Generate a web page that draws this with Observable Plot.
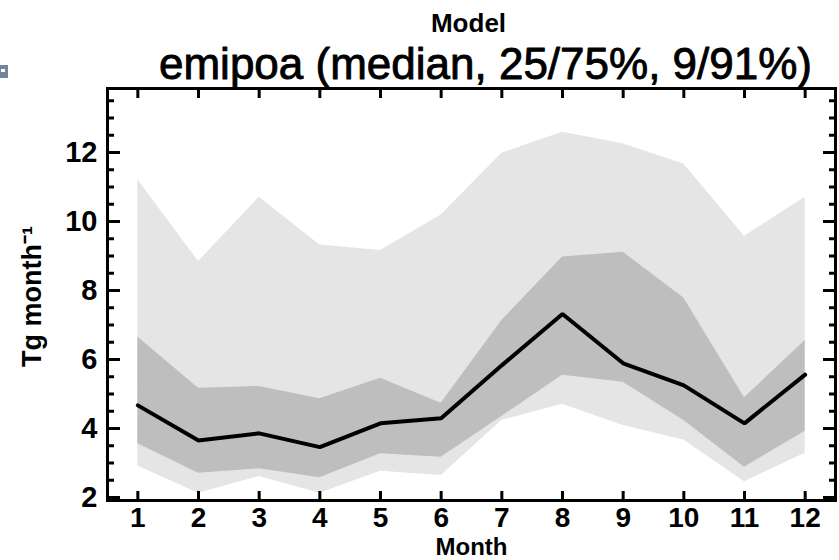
<!DOCTYPE html>
<html><head><meta charset="utf-8">
<script src="https://cdn.jsdelivr.net/npm/d3@7"></script>
<script src="https://cdn.jsdelivr.net/npm/@observablehq/plot@0.6"></script>
<style>
body{margin:0;background:#fff}
#wrap{position:relative;width:839px;height:560px;overflow:hidden}
#icon{position:absolute;left:0;width:8px;height:13px;background:#7384a0}
#icon::after{content:"";position:absolute;left:1px;top:4px;width:4px;height:3px;background:#fff}
</style>
</head><body><div id="wrap"><div id="icon" style="top:65px"></div></div>
<script>
const months = [1,2,3,4,5,6,7,8,9,10,11,12];
const median = [4.67,3.65,3.86,3.46,4.15,4.30,5.83,7.32,5.89,5.25,4.15,5.56];
const p25 = [3.56,2.70,2.83,2.57,3.27,3.17,4.35,5.54,5.34,4.23,2.88,3.92];
const p75 = [6.65,5.17,5.22,4.86,5.46,4.73,7.13,8.97,9.11,7.78,4.89,6.55];
const p09 = [2.91,2.12,2.61,2.12,2.76,2.64,4.23,4.70,4.09,3.67,2.46,3.28];
const p91 = [11.21,8.84,10.70,9.32,9.16,10.19,11.98,12.59,12.25,11.67,9.57,10.70];
const yMajor = [2,4,6,8,10,12];
const yMinor = d3.range(2,14,0.5).filter(v => v % 2 !== 0);
const superTitle = "Model";
const title = "emipoa (median, 25/75%, 9/91%)";
const xLabel = "Month";
const yLabel = "Tg month\u207B\u00B9";

const data = months.map((m,i) => ({month:m, median:median[i], p25:p25[i], p75:p75[i], p09:p09[i], p91:p91[i]}));
const font = "'Liberation Sans', Arial, sans-serif";
const tk = {strokeWidth: 3, stroke: "#000", fill: "none", label: null};

const chart = Plot.plot({
  width: 839, height: 560,
  marginLeft: 107, marginRight: 4, marginTop: 88, marginBottom: 60,
  style: {fontFamily: font, background: "#fff", color: "#000"},
  x: {domain: [0.5, 12.5], axis: null},
  y: {domain: [1.913, 13.855], axis: null},
  marks: [
    Plot.areaY(data, {x: "month", y1: "p09", y2: "p91", fill: "#e5e5e5"}),
    Plot.areaY(data, {x: "month", y1: "p25", y2: "p75", fill: "#bebebe"}),
    Plot.line(data, {x: "month", y: "median", stroke: "#000", strokeWidth: 4, strokeLinejoin: "miter"}),
    // inward ticks
    Plot.axisY({...tk, ticks: yMajor, anchor: "left", tickSize: 13, dx: 13}),
    Plot.axisY({...tk, ticks: yMajor, anchor: "right", tickSize: 13, dx: -13}),
    Plot.axisY({...tk, ticks: yMinor, anchor: "left", tickSize: 7, dx: 7}),
    Plot.axisY({...tk, ticks: yMinor, anchor: "right", tickSize: 7, dx: -7}),
    Plot.axisX({...tk, ticks: months, anchor: "bottom", tickSize: 9, dy: -9}),
    Plot.axisX({...tk, ticks: months, anchor: "top", tickSize: 9, dy: 9}),
    // tick labels
    Plot.axisY({ticks: yMajor, anchor: "left", tickSize: 0, tickPadding: 10, fill: "#000", fontSize: 29, fontWeight: "bold", label: null}),
    Plot.axisX({ticks: months, anchor: "bottom", tickSize: 0, tickPadding: 7, fill: "#000", fontSize: 28, fontWeight: "bold", label: null}),
    Plot.frame({stroke: "#000", strokeWidth: 3}),
    // titles and axis labels
    Plot.text([superTitle], {frameAnchor: "top", lineAnchor: "middle", dy: -65, dx: -3, fontSize: 26, fontWeight: "bold", fill: "#000"}),
    Plot.text([title], {frameAnchor: "top", lineAnchor: "bottom", dy: -10, dx: 14, fontSize: 44, fill: "#000", stroke: "#000", strokeWidth: 0.9}),
    Plot.text([xLabel], {frameAnchor: "bottom", lineAnchor: "middle", dy: 47, fontSize: 24, fontWeight: "bold", fill: "#000"}),
    Plot.text([yLabel], {frameAnchor: "left", textAnchor: "middle", lineAnchor: "middle", dx: -75, dy: 2, rotate: -90, fontSize: 27, fontWeight: "bold", fill: "#000"})
  ]
});
document.getElementById("wrap").appendChild(chart);
</script>
</body></html>
